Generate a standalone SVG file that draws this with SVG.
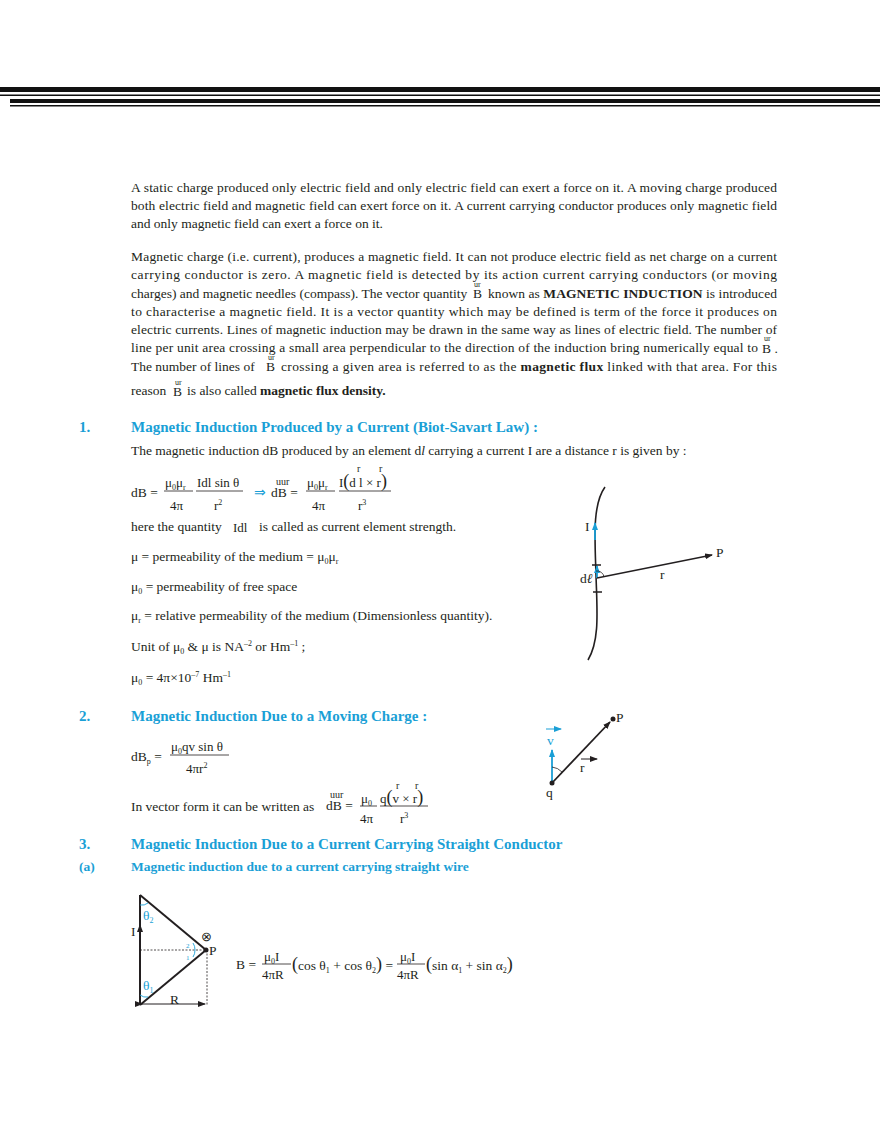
<svg xmlns="http://www.w3.org/2000/svg" width="880" height="1139" viewBox="0 0 880 1139">
<style>
text{font-family:"Liberation Serif","Times New Roman",serif;font-size:13.5px;fill:#231f20}
.h{font-weight:bold;font-size:15px;fill:#1a9fd6}
.hs{font-weight:bold;font-size:13.5px;fill:#1a9fd6}
text.s,tspan.s{font-size:8px}
.b{font-weight:bold}
text.bl,tspan.bl{fill:#1a9fd6}
text.f12{font-size:13px}
text.f10,tspan.f10{font-size:10px}
tspan.f17{font-size:18px}
text.f7{font-size:7px}
.ln{stroke:#231f20;fill:none}
</style>
<defs>
<marker id="ah" markerWidth="8" markerHeight="6" refX="7" refY="3" orient="auto" markerUnits="userSpaceOnUse"><path d="M0,0 L8,3 L0,6z" fill="#231f20"/></marker>
<marker id="ab" markerWidth="8" markerHeight="6" refX="7" refY="3" orient="auto" markerUnits="userSpaceOnUse"><path d="M0,0 L8,3 L0,6z" fill="#1a9fd6"/></marker>
</defs>
<rect width="880" height="1139" fill="#fff"/>
<g id="header">
<rect x="0" y="87" width="880" height="5" fill="#111"/>
<rect x="0" y="94.5" width="880" height="1.5" fill="#111"/>
<rect x="10" y="99" width="870" height="4" fill="#111"/>
<rect x="10" y="105" width="870" height="1.5" fill="#111"/>
</g>
<g id="para1">
<text x="131" y="192" textLength="646" lengthAdjust="spacing">A static charge produced only electric field and only electric field can exert a force on it. A moving charge produced</text>
<text x="131" y="210" textLength="646" lengthAdjust="spacing">both electric field and magnetic field can exert force on it. A current carrying conductor produces only magnetic field</text>
<text x="131" y="228">and only magnetic field can exert a force on it.</text>
</g>
<g id="para2">
<text x="131" y="261" textLength="646" lengthAdjust="spacing">Magnetic charge (i.e. current), produces a magnetic field. It can not produce electric field as net charge on a current</text>
<text x="131" y="279" textLength="646" lengthAdjust="spacing">carrying conductor is zero. A magnetic field is detected by its action current carrying conductors (or moving</text>
<text x="131" y="298">charges) and magnetic needles (compass). The vector quantity</text>
<text x="474" y="287" class="s">ur</text><text x="473" y="298">B</text>
<text x="488" y="298" textLength="289" lengthAdjust="spacing">known as <tspan class="b">MAGNETIC INDUCTION</tspan> is introduced</text>
<text x="131" y="316" textLength="646" lengthAdjust="spacing">to characterise a magnetic field. It is a vector quantity which may be defined is term of the force it produces on</text>
<text x="131" y="334" textLength="646" lengthAdjust="spacing">electric currents. Lines of magnetic induction may be drawn in the same way as lines of electric field. The number of</text>
<text x="131" y="352" textLength="627" lengthAdjust="spacing">line per unit area crossing a small area perpendicular to the direction of the induction bring numerically equal to</text>
<text x="764" y="341" class="s">ur</text><text x="762" y="353">B .</text>
<text x="131" y="371">The number of lines of</text>
<text x="268" y="360" class="s">ur</text><text x="266" y="371">B</text>
<text x="281" y="371" textLength="496" lengthAdjust="spacing">crossing a given area is referred to as the <tspan class="b">magnetic flux</tspan> linked with that area. For this</text>
<text x="131" y="395">reason</text>
<text x="175" y="385" class="s">ur</text><text x="173" y="396">B</text>
<text x="187" y="395">is also called <tspan class="b">magnetic flux density.</tspan></text>
</g>
<g id="sec1">
<text x="79" y="432" class="h">1.</text>
<text x="131" y="432" class="h">Magnetic Induction Produced by a Current (Biot-Savart Law) :</text>
<text x="131" y="455">The magnetic induction dB produced by an element d<tspan font-style="italic">l</tspan> carrying a current I are a distance r is given by :</text>
<text x="131" y="497">dB =</text>
<text x="165" y="487" class="f12">μ<tspan class="s" dy="3">0</tspan><tspan dy="-3">μ</tspan><tspan class="s" dy="3">r</tspan></text>
<line x1="164" y1="491" x2="193" y2="491" class="ln" stroke-width="0.8"/>
<text x="170" y="510" class="f12">4π</text>
<text x="197" y="487" class="f12">Idl sin θ</text>
<line x1="196" y1="491" x2="243" y2="491" class="ln" stroke-width="0.8"/>
<text x="214" y="510" class="f12">r<tspan class="s" dy="-5">2</tspan></text>
<text x="254" y="497" class="bl">⇒</text>
<text x="276" y="485" class="f10">uur</text>
<text x="271" y="497">dB =</text>
<text x="307" y="487" class="f12">μ<tspan class="s" dy="3">0</tspan><tspan dy="-3">μ</tspan><tspan class="s" dy="3">r</tspan></text>
<line x1="306" y1="491" x2="335" y2="491" class="ln" stroke-width="0.8"/>
<text x="312" y="510" class="f12">4π</text>
<text x="339" y="487" class="f12">I<tspan class="f17">(</tspan>d l × r<tspan class="f17">)</tspan></text>
<text x="357" y="472" class="f10">r</text><text x="379" y="472" class="f10">r</text>
<line x1="339" y1="491" x2="391" y2="491" class="ln" stroke-width="0.8"/>
<text x="358" y="510" class="f12">r<tspan class="s" dy="-5">3</tspan></text>
<text x="131" y="531">here the quantity</text>
<text x="233" y="532" class="f12">Idl</text>
<text x="259" y="531">is called as current element strength.</text>
<text x="131" y="561">μ = permeability of the medium = μ<tspan class="s" dy="3">0</tspan><tspan dy="-3">μ</tspan><tspan class="s" dy="3">r</tspan></text>
<text x="131" y="591">μ<tspan class="s" dy="3">0</tspan><tspan dy="-3"> = permeability of free space</tspan></text>
<text x="131" y="620">μ<tspan class="s" dy="3">r</tspan><tspan dy="-3"> = relative permeability of the medium (Dimensionless quantity).</tspan></text>
<text x="131" y="651">Unit of  μ<tspan class="s" dy="3">0</tspan><tspan dy="-3">  &amp;  μ  is NA</tspan><tspan class="s" dy="-5">–2</tspan><tspan dy="5"> or Hm</tspan><tspan class="s" dy="-5">–1</tspan><tspan dy="5"> ;</tspan></text>
<text x="131" y="682">μ<tspan class="s" dy="3">0</tspan><tspan dy="-3"> = 4π×10</tspan><tspan class="s" dy="-5">–7</tspan><tspan dy="5"> Hm</tspan><tspan class="s" dy="-5">–1</tspan></text>
</g>
<g id="fig1">
<path d="M605,487 C592,505 595,540 596,575 C597,610 600,640 588,660" class="ln" stroke-width="1.6"/>
<line x1="595" y1="540" x2="595" y2="523" stroke="#1a9fd6" stroke-width="1.8" marker-end="url(#ab)"/>
<line x1="597" y1="578" x2="597" y2="566" stroke="#1a9fd6" stroke-width="1.8" marker-end="url(#ab)"/>
<line x1="592" y1="565" x2="601" y2="565" class="ln" stroke-width="1.5"/>
<line x1="593" y1="592" x2="602" y2="592" class="ln" stroke-width="1.5"/>
<line x1="597" y1="578" x2="712" y2="555" class="ln" stroke-width="1.4" marker-end="url(#ah)"/>
<path d="M596,571 A7,7 0 0 1 604,577" class="ln" stroke-width="0.8"/>
<text x="585" y="531">I</text>
<text x="716" y="557">P</text>
<text x="580" y="583">d<tspan font-style="italic">ℓ</tspan></text>
<text x="660" y="579">r</text>
</g>
<g id="sec2">
<text x="79" y="721" class="h">2.</text>
<text x="131" y="721" class="h">Magnetic  Induction Due to a Moving Charge :</text>
<text x="131" y="761">dB<tspan class="s" dy="3">p</tspan><tspan dy="-3"> =</tspan></text>
<text x="171" y="751" class="f12">μ<tspan class="s" dy="3">0</tspan><tspan dy="-3">qv sin θ</tspan></text>
<line x1="170" y1="755" x2="229" y2="755" class="ln" stroke-width="0.8"/>
<text x="186" y="773" class="f12">4πr<tspan class="s" dy="-5">2</tspan></text>
<text x="131" y="811">In vector form it can be written as</text>
<text x="330" y="798" class="f10">uur</text>
<text x="326" y="810">dB =</text>
<text x="361" y="803" class="f12">μ<tspan class="s" dy="3">0</tspan></text>
<line x1="360" y1="806" x2="377" y2="806" class="ln" stroke-width="0.8"/>
<text x="360" y="823" class="f12">4π</text>
<text x="380" y="803" class="f12">q<tspan class="f17">(</tspan>v × r<tspan class="f17">)</tspan></text>
<text x="396" y="789" class="f10">r</text><text x="415" y="789" class="f10">r</text>
<line x1="380" y1="806" x2="428" y2="806" class="ln" stroke-width="0.8"/>
<text x="400" y="823" class="f12">r<tspan class="s" dy="-5">3</tspan></text>
</g>
<g id="fig2">
<line x1="552" y1="783" x2="552" y2="750" stroke="#1a9fd6" stroke-width="1.8" marker-end="url(#ab)"/>
<line x1="552" y1="783" x2="610" y2="722" class="ln" stroke-width="1.8" marker-end="url(#ah)"/>
<circle cx="552" cy="783" r="2.5" fill="#231f20"/>
<circle cx="613" cy="719" r="2.5" fill="#231f20"/>
<path d="M552,767 A16,16 0 0 1 562,772" class="ln" stroke-width="0.8"/>
<text x="547" y="745" class="bl">v</text>
<line x1="546" y1="729" x2="561" y2="729" stroke="#1a9fd6" stroke-width="1" marker-end="url(#ab)"/>
<text x="580" y="772">r</text>
<line x1="581" y1="759" x2="597" y2="759" class="ln" stroke-width="1" marker-end="url(#ah)"/>
<text x="546" y="797">q</text>
<text x="616" y="722">P</text>
</g>
<g id="sec3">
<text x="79" y="849" class="h">3.</text>
<text x="131" y="849" class="h">Magnetic Induction Due to a Current Carrying  Straight Conductor</text>
<text x="79" y="871" class="hs">(a)</text>
<text x="131" y="871" class="hs">Magnetic induction due to a current carrying straight wire</text>
</g>
<g id="fig3">
<line x1="140" y1="895" x2="140" y2="1005" class="ln" stroke-width="2"/>
<line x1="140" y1="950" x2="140" y2="925" class="ln" stroke-width="1" marker-end="url(#ah)"/>
<line x1="140" y1="895" x2="206" y2="950" class="ln" stroke-width="2"/>
<line x1="140" y1="1005" x2="206" y2="950" class="ln" stroke-width="2"/>
<line x1="140" y1="950" x2="206" y2="950" class="ln" stroke-width="0.8" stroke-dasharray="2,1.5"/>
<line x1="207" y1="950" x2="207" y2="1005" class="ln" stroke-width="0.8" stroke-dasharray="2,1.5"/>
<line x1="142" y1="1004" x2="205" y2="1004" class="ln" stroke-width="1" marker-start="url(#ah)" marker-end="url(#ah)"/>
<circle cx="206" cy="950" r="2.5" fill="#231f20"/>
<path d="M140,905 A10,10 0 0 0 148,903" stroke="#1a9fd6" fill="none" stroke-width="0.9"/>
<path d="M140,995 A10,10 0 0 0 148,997" stroke="#1a9fd6" fill="none" stroke-width="0.9"/>
<path d="M193,943 A12,12 0 0 1 195,950 A12,12 0 0 1 193,957" stroke="#1a9fd6" fill="none" stroke-width="0.9"/>
<text x="143" y="920" class="bl">θ<tspan class="s" dy="3">2</tspan></text>
<text x="143" y="990" class="bl">θ<tspan class="s" dy="3">1</tspan></text>
<text x="186" y="948" class="f7 bl">2</text>
<text x="186" y="960" class="f7 bl">1</text>
<text x="131" y="936">I</text>
<text x="209" y="955">P</text>
<text x="201" y="941" class="f12">⊗</text>
<text x="170" y="1004">R</text>
<text x="236" y="969">B =</text>
<text x="264" y="961" class="f12">μ<tspan class="s" dy="3">0</tspan><tspan dy="-3">I</tspan></text>
<line x1="262" y1="964" x2="291" y2="964" class="ln" stroke-width="0.8"/>
<text x="262" y="979" class="f12">4πR</text>
<text x="292" y="970"><tspan class="f17">(</tspan>cos θ<tspan class="s" dy="3">1</tspan><tspan dy="-3"> + cos θ</tspan><tspan class="s" dy="3">2</tspan><tspan dy="-3" class="f17">)</tspan><tspan> =</tspan></text>
<text x="400" y="961" class="f12">μ<tspan class="s" dy="3">0</tspan><tspan dy="-3">I</tspan></text>
<line x1="397" y1="964" x2="425" y2="964" class="ln" stroke-width="0.8"/>
<text x="397" y="979" class="f12">4πR</text>
<text x="426" y="970"><tspan class="f17">(</tspan>sin α<tspan class="s" dy="3">1</tspan><tspan dy="-3"> + sin α</tspan><tspan class="s" dy="3">2</tspan><tspan dy="-3" class="f17">)</tspan></text>
</g>
</svg>
